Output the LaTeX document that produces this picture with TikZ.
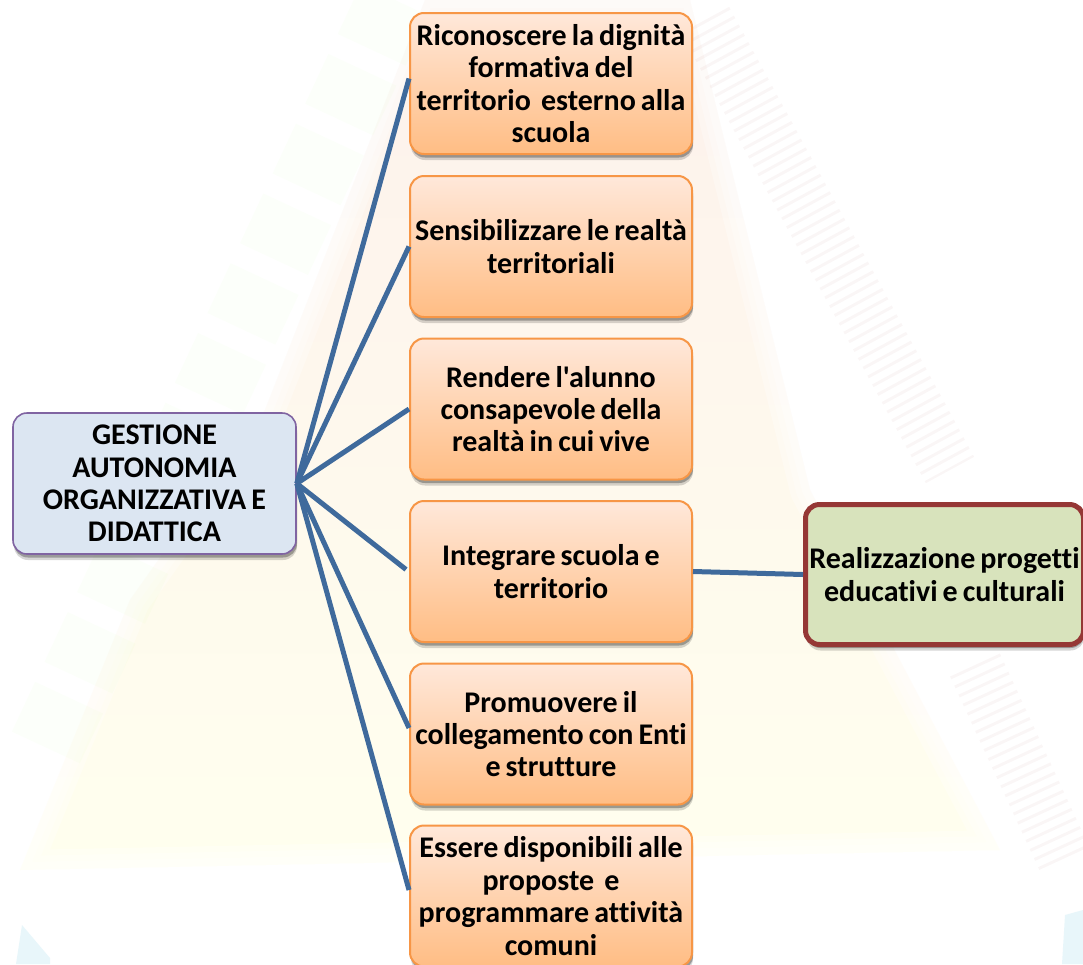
\documentclass[tikz,border=0pt]{standalone}
\usepackage{fontspec}
\setmainfont[Ligatures={NoCommon,TeXOff}]{Carlito}
\usetikzlibrary{shadows}
\definecolor{linkblue}{HTML}{3F6A9C}
\definecolor{orangeline}{HTML}{F79646}
\definecolor{orangetop}{HTML}{FFE8DA}
\definecolor{orangebot}{HTML}{FFBD84}
\definecolor{hubfill}{HTML}{DCE6F2}
\definecolor{hubline}{HTML}{8064A2}
\definecolor{greenfill}{HTML}{D8E3BC}
\definecolor{greenline}{HTML}{953735}
\definecolor{creamtop}{HTML}{FDF1EC}
\definecolor{creammid}{HTML}{FFFFEE}
\definecolor{pale}{HTML}{D9F1F8}
\newcommand\tightwords{\spaceskip=.17em\relax}
\tikzset{
  boxtext/.style={font=\fontsize{30}{32.4}\bfseries\selectfont, execute at begin node=\tightwords, align=center, text=black, inner sep=0pt},
  softshadow/.style={
    drop shadow={shadow xshift=1pt,shadow yshift=-6pt,opacity=.16,fill=black},
    drop shadow={shadow xshift=1pt,shadow yshift=-3.5pt,opacity=.28,fill=black}},
  goalbox/.style={boxtext, rectangle, rounded corners=14pt, draw=orangeline, line width=2pt,
    top color=orangetop, bottom color=orangebot, minimum width=282pt, minimum height=141pt, text width=282pt, softshadow},
  hubbox/.style={boxtext, rectangle, rounded corners=14pt, draw=hubline, line width=1.6pt,
    fill=hubfill, minimum width=283pt, minimum height=141pt, text width=270pt, softshadow},
  resultbox/.style={boxtext, rectangle, rounded corners=14pt, draw=greenline, line width=5pt,
    fill=greenfill, minimum width=278pt, minimum height=140pt, text width=278pt, softshadow},
  link/.style={draw=linkblue, line width=5pt},
  stripegreen/.style={draw=green!50!yellow, opacity=.02, line width=75pt, dash pattern=on 55pt off 22pt},
  stripepink/.style={draw=red!55!black, opacity=.035, line width=55pt, dash pattern=on 3pt off 7pt},
  softedge/.style={draw=white, line join=round},
}
\begin{document}
\begin{tikzpicture}[x=1pt,y=-1pt]
\useasboundingbox (0,0) rectangle (1083,964);
\clip (0,0) rectangle (1083,964);
% watermark background
\fill[white] (0,0) rectangle (1083,964);
\shade[top color=creamtop, middle color=creammid, bottom color=creammid]
  (425,0) -- (690,0) -- (810,490) -- (1000,850) -- (20,870) -- (130,600) -- (265,410) -- cycle;
\foreach \w in {40,28,16} {
  \draw[softedge, opacity=.3, line width=\w pt]
    (425,0) -- (690,0) -- (810,490) -- (1000,850) -- (20,870) -- (130,600) -- (265,410) -- cycle;
}
\draw[stripegreen] (395,0) -- (40,760);
\draw[stripepink] (705,20) -- (950,470);
\draw[stripepink] (975,665) -- (1065,860);
\fill[pale, opacity=.6] (16,964) -- (22,925) -- (50,958) -- (50,964) -- cycle;
\fill[pale, opacity=.6] (1062,964) -- (1065,915) -- (1083,910) -- (1083,964) -- cycle;
% nodes
\node[hubbox] (hub) at (154.5,483.5) {GESTIONE\\AUTONOMIA\\ORGANIZZATIVA E\\DIDATTICA};
\node[goalbox] (g1) at (551,83.5) {Riconoscere la dignità\\formativa del\\territorio\ \ esterno alla\\scuola};
\node[goalbox] (g2) at (551,246.5) {Sensibilizzare le realtà\\territoriali\\[22pt]};
\node[goalbox] (g3) at (551,409) {Rendere l'alunno\\consapevole della\\realtà in cui vive};
\node[goalbox] (g4) at (551,571.5) {Integrare scuola e\\territorio};
\node[goalbox] (g5) at (551,734) {Promuovere il\\collegamento con Enti\\e strutture};
\node[goalbox] (g6) at (551,896) {Essere disponibili alle\\proposte\ \ e\\programmare attività\\comuni};
\node[resultbox] (res) at (944.5,574.5) {Realizzazione progetti\\educativi e culturali};
% connectors
\draw[link] (hub.east) -- ([yshift=5pt]g1.west);
\draw[link] (hub.east) -- (g2.west);
\draw[link] (hub.east) -- (g3.west);
\draw[link] (hub.east) -- ([yshift=2pt,xshift=-3pt]g4.west);
\draw[link] (hub.east) -- ([yshift=6pt]g5.west);
\draw[link] (hub.east) -- ([yshift=6pt]g6.west);
\draw[link] (g4.east) -- (res.west);
\end{tikzpicture}
\end{document}
